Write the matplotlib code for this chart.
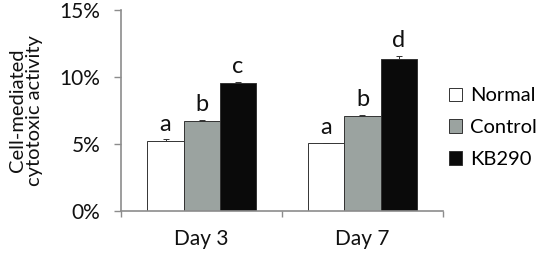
import numpy as np
import matplotlib.pyplot as plt
from matplotlib.ticker import FuncFormatter

plt.rcParams['font.family'] = ['Lato', 'DejaVu Sans']

days = ['Day 3', 'Day 7']
groups = ['Normal', 'Control', 'KB290']
normal = [5.23, 5.06]
control = [6.70, 7.07]
kb290 = [9.55, 11.37]
normal_err = [0.12, 0.04]
control_err = [0.12, 0.12]
kb290_err = [0.08, 0.22]
letters = [['a', 'b', 'c'], ['a', 'b', 'd']]

colors = ['white', '#9ba3a0', '#0a0a0a']
axis_col = '#8c8c8c'

fig = plt.figure(figsize=(5.53, 2.56), dpi=100)
ax = fig.add_axes([0.219, 0.176, 0.582, 0.785])

x = np.arange(len(days))
w = 0.224
series = [normal, control, kb290]
errs = [normal_err, control_err, kb290_err]
for i, (vals, err) in enumerate(zip(series, errs)):
    pos = x + (i - 1) * w
    ax.bar(pos, vals, w, color=colors[i], edgecolor='#333333', linewidth=0.7,
           label=groups[i], zorder=2)
    ax.errorbar(pos, vals, yerr=[np.zeros(len(err)), err], fmt='none',
                ecolor='#333333', elinewidth=0.7, capsize=2.5, capthick=0.7, zorder=3)
    for j in range(len(days)):
        ax.text(pos[j], vals[j] + err[j] + 0.35, letters[j][i], ha='center',
                va='bottom', fontsize=17, color='#111111')

ax.set_xlim(-0.5, 1.5)
ax.set_ylim(0, 15)
ax.set_yticks([0, 5, 10, 15])
ax.yaxis.set_major_formatter(FuncFormatter(lambda v, p: '%d%%' % v))
ax.set_xticks(x)
ax.set_xticklabels(days)
ax.set_xticks([-0.5, 0.5, 1.5], minor=True)
ax.tick_params(axis='x', which='major', length=0, pad=13, labelsize=15, colors='#111111')
ax.tick_params(axis='x', which='minor', length=4, width=1, color=axis_col, direction='out')
ax.tick_params(axis='y', length=5, width=1, color=axis_col, labelsize=15, pad=10,
               labelcolor='#111111')

for s in ['top', 'right']:
    ax.spines[s].set_visible(False)
for s in ['left', 'bottom']:
    ax.spines[s].set_color(axis_col)
    ax.spines[s].set_linewidth(1.2)

ax.set_ylabel('Cell-mediated\ncytotoxic activity', fontsize=14.5, color='#111111',
              linespacing=1.0, labelpad=12)

leg = ax.legend(loc='upper left', bbox_to_anchor=(1.019, 0.615), frameon=False,
                fontsize=14.5, handlelength=0.65, handleheight=0.65, handletextpad=0.4,
                labelspacing=0.74, borderaxespad=0, borderpad=0)

fig.savefig('out.png', dpi=100)
